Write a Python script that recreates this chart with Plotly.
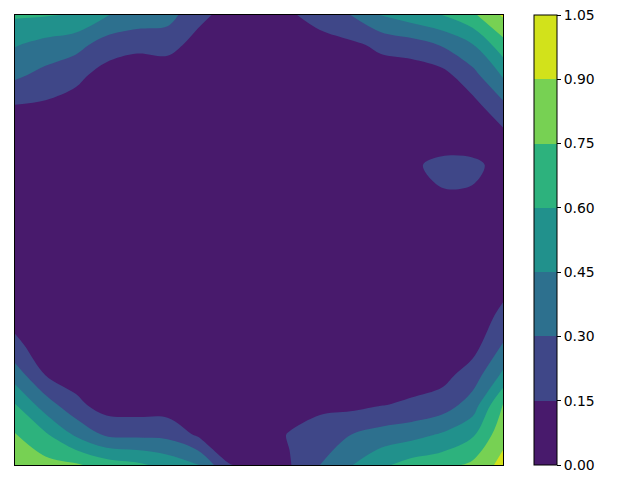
import plotly.graph_objects as go

# grid positions (columns left->right, rows top->bottom)
x_cols = [0, 1, 2, 3, 4, 5, 6, 7, 8, 9, 10, 11, 12, 13, 14, 15, 16]
y_rows = [0, 1, 2, 3, 4, 5, 6, 7, 8, 9, 10, 11, 12, 13, 14, 15]

z_r00 = [0.62, 0.61, 0.59, 0.455, 0.40, 0.36, 0.19, 0.10, 0.10, 0.13, 0.21, 0.30, 0.46, 0.53, 0.60, 0.72, 0.92]
z_r01 = [0.46, 0.40, 0.35, 0.23, 0.186, 0.20, 0.10, 0.08, 0.07, 0.08, 0.09, 0.12, 0.18, 0.23, 0.31, 0.44, 0.69]
z_r02 = [0.33, 0.256, 0.19, 0.09, 0.06, 0.06, 0.06, 0.06, 0.05, 0.05, 0.05, 0.07, 0.08, 0.06, 0.10, 0.25, 0.47]
z_r03 = [0.148, 0.13, 0.09, 0.07, 0.05, 0.05, 0.05, 0.04, 0.04, 0.04, 0.04, 0.05, 0.06, 0.06, 0.08, 0.10, 0.27]
z_r04 = [0.09, 0.08, 0.07, 0.05, 0.04, 0.04, 0.04, 0.03, 0.03, 0.03, 0.04, 0.05, 0.06, 0.08, 0.09, 0.09, 0.11]
z_r05 = [0.07, 0.06, 0.05, 0.04, 0.04, 0.03, 0.03, 0.03, 0.03, 0.03, 0.04, 0.05, 0.07, 0.135, 0.175, 0.17, 0.12]
z_r06 = [0.06, 0.05, 0.04, 0.04, 0.03, 0.03, 0.03, 0.03, 0.03, 0.03, 0.04, 0.05, 0.06, 0.115, 0.142, 0.14, 0.11]
z_r07 = [0.06, 0.05, 0.04, 0.03, 0.03, 0.03, 0.03, 0.03, 0.03, 0.03, 0.04, 0.05, 0.06, 0.07, 0.09, 0.09, 0.08]
z_r08 = [0.07, 0.05, 0.04, 0.03, 0.03, 0.03, 0.03, 0.03, 0.03, 0.03, 0.04, 0.04, 0.05, 0.06, 0.07, 0.08, 0.08]
z_r09 = [0.08, 0.06, 0.05, 0.04, 0.03, 0.03, 0.03, 0.03, 0.03, 0.04, 0.04, 0.04, 0.05, 0.06, 0.07, 0.08, 0.11]
z_r10 = [0.10, 0.07, 0.05, 0.04, 0.04, 0.03, 0.03, 0.03, 0.03, 0.04, 0.04, 0.05, 0.05, 0.06, 0.07, 0.07, 0.18]
z_r11 = [0.18, 0.08, 0.06, 0.05, 0.04, 0.04, 0.04, 0.03, 0.03, 0.04, 0.05, 0.05, 0.06, 0.07, 0.08, 0.09, 0.31]
z_r12 = [0.38, 0.148, 0.08, 0.05, 0.05, 0.05, 0.04, 0.04, 0.04, 0.05, 0.07, 0.08, 0.09, 0.09, 0.10, 0.22, 0.48]
z_r13 = [0.61, 0.375, 0.19, 0.08, 0.07, 0.07, 0.07, 0.06, 0.06, 0.08, 0.12, 0.11, 0.145, 0.17, 0.22, 0.37, 0.76]
z_r14 = [0.76, 0.625, 0.43, 0.28, 0.27, 0.26, 0.13, 0.08, 0.07, 0.16, 0.21, 0.30, 0.36, 0.40, 0.47, 0.58, 0.85]
z_r15 = [0.88, 0.80, 0.77, 0.68, 0.63, 0.55, 0.46, 0.155, 0.12, 0.14, 0.30, 0.44, 0.57, 0.66, 0.70, 0.78, 0.95]

levels = [0.00, 0.15, 0.30, 0.45, 0.60, 0.75, 0.90, 1.05]
level_labels = ["0.00", "0.15", "0.30", "0.45", "0.60", "0.75", "0.90", "1.05"]
band_colors = ["#481a6c", "#3f4788", "#2d708e", "#21918c", "#2db27d", "#77d153", "#d2e21b"]

z = [z_r00, z_r01, z_r02, z_r03, z_r04, z_r05, z_r06, z_r07,
     z_r08, z_r09, z_r10, z_r11, z_r12, z_r13, z_r14, z_r15]

# stepped colorscale over [0, 1.05]
n = len(band_colors)
colorscale = []
for i, c in enumerate(band_colors):
    colorscale.append([i / n, c])
    colorscale.append([(i + 1) / n, c])

# keep the top tick inside the colorbar range (floating point)
tick_pos = [min(v, levels[-1] - 1e-6) for v in levels]

fig = go.Figure(go.Contour(
    x=x_cols, y=y_rows, z=z,
    zmin=levels[0], zmax=levels[-1],
    autocontour=False,
    contours=dict(start=levels[0], end=levels[-1], size=0.15,
                  coloring="fill", showlines=False),
    line=dict(width=0, smoothing=1.0),
    colorscale=colorscale,
    colorbar=dict(
        x=1.0635, xanchor="left", y=0.5, yanchor="middle",
        len=1, lenmode="fraction", thickness=23, thicknessmode="pixels",
        xpad=0, ypad=0,
        outlinewidth=1, outlinecolor="black",
        tickmode="array", tickvals=tick_pos, ticktext=level_labels,
        ticks="outside", ticklen=4, tickwidth=1, tickcolor="black",
        ticklabeloverflow="allow",
        tickfont=dict(family="DejaVu Sans", size=13.9, color="black"),
    ),
    hoverinfo="skip",
))

# page body has an 8px margin, so the figure is 632x472 and offset accordingly
fig.update_layout(
    width=632, height=472,
    margin=dict(l=7, r=137, t=7, b=15),
    paper_bgcolor="white", plot_bgcolor="white",
    showlegend=False,
    xaxis=dict(range=[x_cols[0], x_cols[-1]], showticklabels=False, ticks="",
               showgrid=False, zeroline=False, showline=True, mirror=True,
               linecolor="black", linewidth=1),
    yaxis=dict(range=[y_rows[-1], y_rows[0]], showticklabels=False, ticks="",
               showgrid=False, zeroline=False, showline=True, mirror=True,
               linecolor="black", linewidth=1),
)

fig.write_html("out.html")
